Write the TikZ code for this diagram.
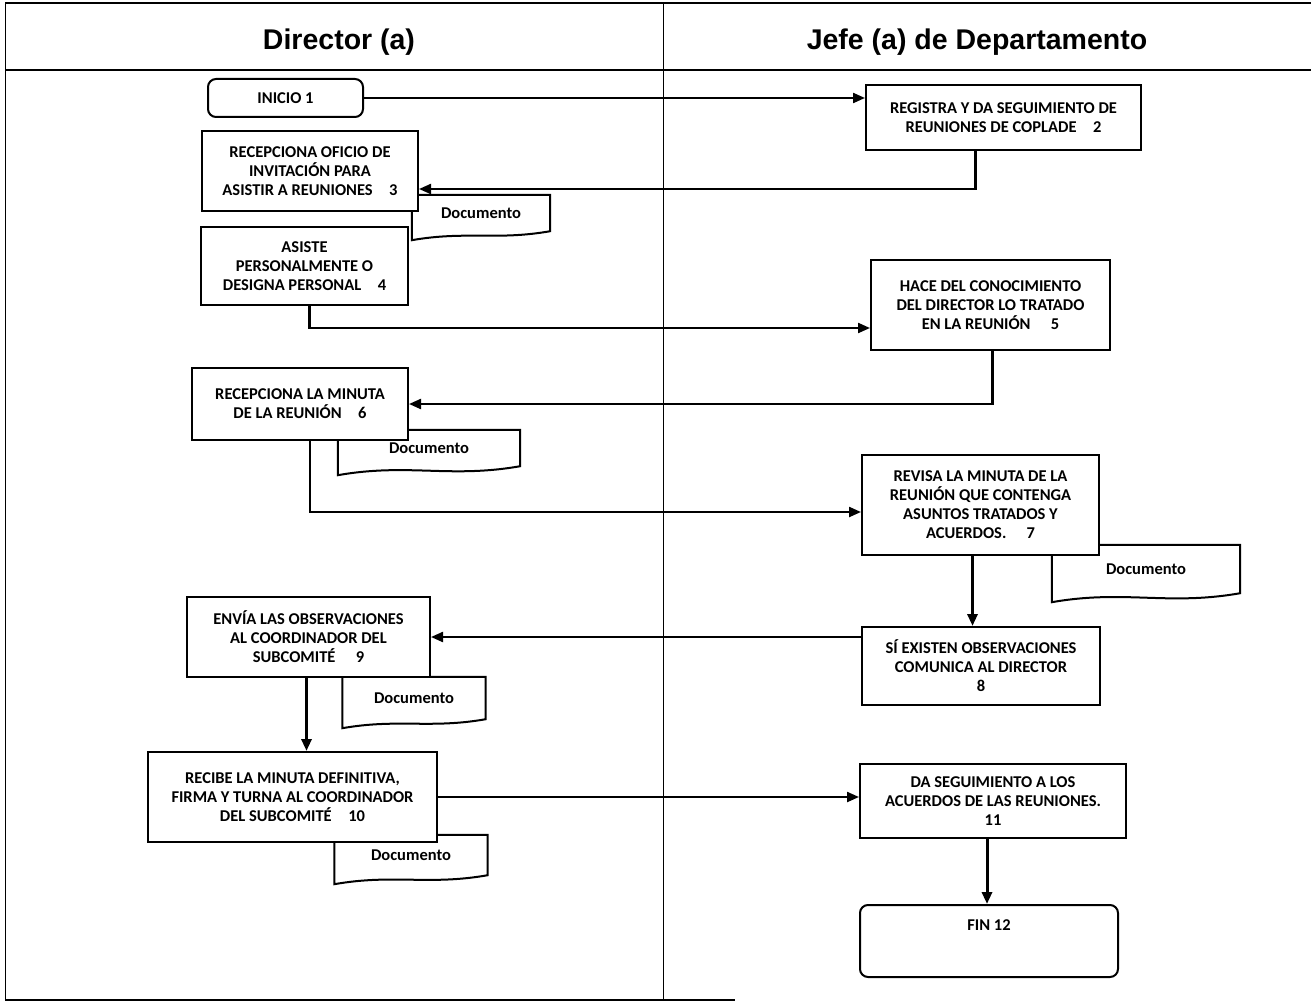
\documentclass[tikz,border=0pt]{standalone}
\usepackage{fontspec}
\setmainfont{Carlito}
\newfontfamily\headfont{Liberation Sans}
\usepackage{tikz}
\usetikzlibrary{arrows.meta, positioning, calc}

\begin{document}
\begin{tikzpicture}[x=1pt, y=-1pt, >={Triangle[length=12pt,width=10pt]}]
  \tikzstyle{box} = [rectangle, draw, line width=2pt, fill=white, align=center, inner sep=2pt, font=\fontsize{16.5}{19}\selectfont\bfseries]
  \tikzstyle{term} = [box, rounded corners=8pt]
  \tikzstyle{doc} = [rectangle, inner sep=0pt, font=\fontsize{16.5}{19}\selectfont\bfseries]
  \tikzstyle{docline} = [line width=2pt]
  \tikzstyle{flow} = [->, line width=2.2pt]
  \tikzstyle{down} = [->, line width=3pt]
  \tikzstyle{head} = [font=\headfont\fontsize{28.5}{32}\selectfont\bfseries]

  \useasboundingbox (0,0) rectangle (1311,1003);

  % lanes
  \draw[line width=1.8pt] (5,3) -- (1311,3);
  \draw[line width=1.8pt] (5,70) -- (1311,70);
  \draw[line width=1pt] (5,3) -- (5,1000);
  \draw[line width=1pt] (663,3) -- (663,1000);
  \draw[line width=1.4pt] (5,1000) -- (735,1000);
  \node[head] (dir) at (339,42) {Director (a)};
  \node[head] (jefe) at (977,42) {Jefe (a) de Departamento};

  % documents
  \node[doc, minimum width=138pt, minimum height=36pt] (d3) at (481,213) {Documento};
  \node[doc, minimum width=182pt, minimum height=36pt] (d6) at (429,448) {Documento};
  \node[doc, minimum width=188pt, minimum height=48pt] (d7) at (1146,569) {Documento};
  \node[doc, minimum width=143pt, minimum height=42pt] (d9) at (414,698) {Documento};
  \node[doc, minimum width=153pt, minimum height=40pt] (d10) at (411,855) {Documento};
  \foreach \d in {d3,d6,d7,d9,d10}
    \draw[docline] (\d.north west) -- (\d.north east) -- (\d.south east)
      to[out=190,in=10] ([yshift=-9pt]\d.south west) -- cycle;

  % steps
  \node[term, minimum width=155pt, minimum height=38pt] (ini) at (285.5,98) {INICIO 1};
  \node[box, minimum width=275pt, minimum height=65pt] (reg) at (1003.5,117.5) {REGISTRA Y DA SEGUIMIENTO DE\\REUNIONES DE COPLADE\quad 2};
  \node[box, minimum width=216pt, minimum height=80pt] (ofi) at (310,171) {RECEPCIONA OFICIO DE\\INVITACIÓN PARA\\ASISTIR A REUNIONES\quad 3};
  \node[box, minimum width=207pt, minimum height=78pt] (asi) at (304.5,266) {ASISTE\\PERSONALMENTE O\\DESIGNA PERSONAL\quad 4};
  \node[box, minimum width=239pt, minimum height=90pt] (hac) at (990.5,305) {HACE DEL CONOCIMIENTO\\DEL DIRECTOR LO TRATADO\\EN LA REUNIÓN\quad\ 5};
  \node[box, minimum width=216pt, minimum height=72pt] (min) at (300,404) {RECEPCIONA LA MINUTA\\DE LA REUNIÓN\quad 6};
  \node[box, minimum width=237pt, minimum height=100pt] (rev) at (980.5,505) {REVISA LA MINUTA DE LA\\REUNIÓN QUE CONTENGA\\ASUNTOS TRATADOS Y\\ACUERDOS.\quad\ 7};
  \node[box, minimum width=238pt, minimum height=78pt] (obs) at (981,666) {SÍ EXISTEN OBSERVACIONES\\COMUNICA AL DIRECTOR\\8};
  \node[box, minimum width=243pt, minimum height=80pt] (env) at (308.5,637) {ENVÍA LAS OBSERVACIONES\\AL COORDINADOR DEL\\SUBCOMITÉ\quad\ 9};
  \node[box, minimum width=289pt, minimum height=90pt] (rec) at (292.5,797) {RECIBE LA MINUTA DEFINITIVA,\\FIRMA Y TURNA AL COORDINADOR\\DEL SUBCOMITÉ\quad 10};
  \node[box, minimum width=266pt, minimum height=74pt] (seg) at (993,801) {DA SEGUIMIENTO A LOS\\ACUERDOS DE LAS REUNIONES.\\11};
  \node[term, minimum width=258pt, minimum height=72pt, label={[anchor=north, yshift=-12pt, font=\fontsize{16.5}{19}\selectfont\bfseries]north:FIN 12}] (fin) at (989,941) {};

  % connectors
  \draw[flow] (ini.east) -- (ini.east -| reg.west);
  \draw[flow] ([xshift=-28pt]reg.south) |- ([yshift=-18pt]ofi.east);
  \draw[flow] ([xshift=5pt]asi.south) |- ([yshift=-23pt]hac.west);
  \draw[flow] ([xshift=2pt]hac.south) |- (min.east);
  \draw[flow] ([xshift=10pt]min.south) |- ([yshift=-7pt]rev.west);
  \draw[down] ([xshift=-8pt]rev.south) -- ([xshift=-8pt]rev.south |- obs.north);
  \draw[flow] (obs.west |- env.east) -- (env.east);
  \draw[down] ([xshift=-2pt]env.south) -- ([xshift=-2pt]env.south |- rec.north);
  \draw[flow] (rec.east) -- (rec.east -| seg.west);
  \draw[down] ([xshift=-6pt]seg.south) -- ([xshift=-6pt]seg.south |- fin.north);
\end{tikzpicture}
\end{document}
